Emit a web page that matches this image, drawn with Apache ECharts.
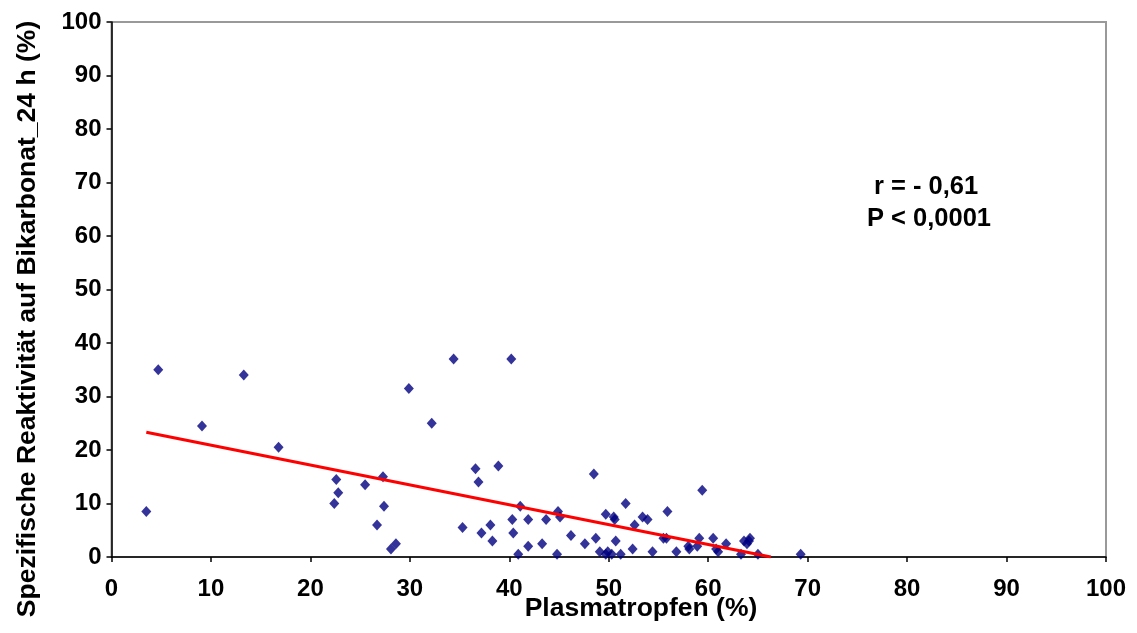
<!DOCTYPE html>
<html>
<head>
<meta charset="utf-8">
<script src="https://cdn.jsdelivr.net/npm/echarts@6/dist/echarts.min.js"></script>
<style>
html,body{margin:0;padding:0;background:#fff;}
#chart{width:1137px;height:633px;}
</style>
</head>
<body>
<div id="chart"></div>
<script>
// Data
const plasmatropfen = [
  4.7, 13.3, 9.1, 16.8, 3.5, 29.9, 32.2, 34.4, 22.6, 22.8, 22.4, 25.5, 27.3, 27.4, 26.7, 28.1, 28.6,
  40.2, 36.6, 36.9, 38.9, 35.3, 37.2, 38.1, 38.3, 41.1, 40.3, 40.4, 40.9, 41.9, 41.9, 43.3, 43.7,
  44.8, 44.9, 45.1, 46.2, 47.6, 48.5, 48.7, 49.1, 49.7, 49.7, 49.9, 50.3, 50.5, 50.6, 50.7, 51.2,
  51.7, 52.4, 52.6, 53.4, 53.9, 54.4, 55.5, 55.8, 55.9, 56.8, 58.0, 58.1, 58.9, 59.1, 59.4, 60.5,
  60.8, 61.0, 61.8, 63.3, 63.6, 63.9, 64.2, 64.1, 65.0, 69.3
];
const reaktivitaet = [
  35.0, 34.0, 24.5, 20.5, 8.5, 31.5, 25.0, 37.0, 14.5, 12.0, 10.0, 13.5, 15.0, 9.5, 6.0, 1.5, 2.5,
  37.0, 16.5, 14.0, 17.0, 5.5, 4.5, 6.0, 3.0, 9.5, 7.0, 4.5, 0.5, 7.0, 2.0, 2.5, 7.0,
  0.5, 8.5, 7.5, 4.0, 2.5, 15.5, 3.5, 1.0, 8.0, 0.5, 1.0, 0.5, 7.5, 7.0, 3.0, 0.5,
  10.0, 1.5, 6.0, 7.5, 7.0, 1.0, 3.5, 3.5, 8.5, 1.0, 2.0, 1.5, 2.0, 3.5, 12.5, 3.5,
  1.5, 1.0, 2.5, 0.5, 3.0, 2.5, 3.5, 3.0, 0.5, 0.5
];
const trendX = [3.5, 66.3];
const trendY = [23.3, 0];
const axisTicks = [0, 10, 20, 30, 40, 50, 60, 70, 80, 90, 100];
const xTitle = 'Plasmatropfen (%)';
const yTitle = 'Spezifische Reaktivität auf Bikarbonat_24 h (%)';
const annotation = ['r = - 0,61', 'P < 0,0001'];

const FONT = '"Liberation Sans", Arial, sans-serif';
const chart = echarts.init(document.getElementById('chart'));

const axisCommon = {
  type: 'value',
  min: axisTicks[0],
  max: axisTicks[axisTicks.length - 1],
  interval: axisTicks[1] - axisTicks[0],
  splitLine: { show: false },
  axisLine: { show: true, lineStyle: { color: '#000', width: 1.5 } },
  axisTick: { show: true, inside: false, length: 5, lineStyle: { color: '#000', width: 1.5 } },
  axisLabel: { color: '#000', fontFamily: FONT, fontWeight: 'bold', fontSize: 24 }
};

chart.setOption({
  animation: false,
  backgroundColor: '#fff',
  grid: {
    left: 111.5, right: 31, top: 22, bottom: 76,
    show: true, borderColor: '#999', borderWidth: 2, backgroundColor: 'transparent'
  },
  xAxis: Object.assign({}, axisCommon, {
    axisLabel: Object.assign({}, axisCommon.axisLabel, { margin: 20 })
  }),
  yAxis: Object.assign({}, axisCommon, {
    axisLabel: Object.assign({}, axisCommon.axisLabel, { margin: 10, padding: [6, 0, 0, 0] })
  }),
  graphic: [
    { type: 'text', x: 641, y: 609, style: {
        text: xTitle, fill: '#000', font: 'bold 26.5px ' + FONT,
        textAlign: 'center', textVerticalAlign: 'middle' } },
    { type: 'text', x: 28, y: 319, rotation: Math.PI / 2, style: {
        text: yTitle, fill: '#000', font: 'bold 26.5px ' + FONT,
        textAlign: 'center', textVerticalAlign: 'middle' } },
    { type: 'text', x: 926, y: 187, style: {
        text: annotation[0], fill: '#000', font: 'bold 25.5px ' + FONT,
        textAlign: 'center', textVerticalAlign: 'middle' } },
    { type: 'text', x: 929, y: 219, style: {
        text: annotation[1], fill: '#000', font: 'bold 25.5px ' + FONT,
        textAlign: 'center', textVerticalAlign: 'middle' } }
  ],
  series: [
    {
      type: 'scatter',
      symbol: 'diamond',
      symbolSize: [10, 11],
      itemStyle: { color: '#000080' },
      data: plasmatropfen.map((x, i) => [x, reaktivitaet[i]]),
      z: 3
    },
    {
      type: 'line',
      data: trendX.map((x, i) => [x, trendY[i]]),
      symbol: 'none',
      lineStyle: { color: '#ff0000', width: 3 },
      z: 4
    }
  ]
});
</script>
</body>
</html>
